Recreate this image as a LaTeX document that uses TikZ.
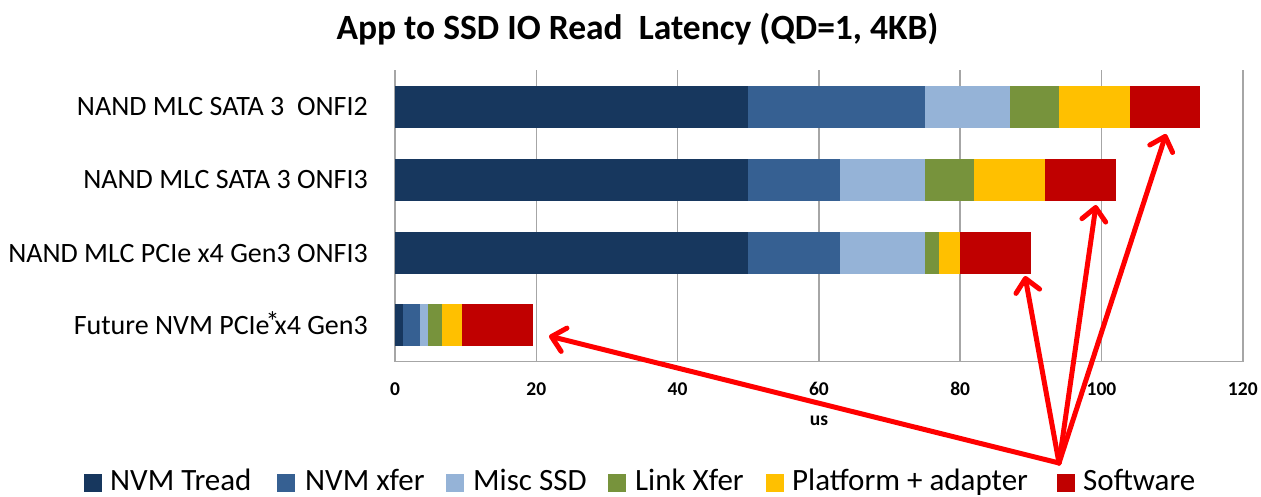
\documentclass[tikz,border=0pt]{standalone}
\usepackage{fontspec}
\setmainfont{Carlito}
\usetikzlibrary{arrows.meta}

\definecolor{cTread}{RGB}{23,55,94}
\definecolor{cXfer}{RGB}{54,96,146}
\definecolor{cMisc}{RGB}{149,179,215}
\definecolor{cLink}{RGB}{119,147,60}
\definecolor{cPlat}{RGB}{255,192,0}
\definecolor{cSoft}{RGB}{192,0,0}
\definecolor{cGrid}{RGB}{166,166,166}

% x origin of the value axis and pixels per microsecond
\def\xo{395}
\def\xs{7.065}

% one stacked bar: centre y, then the cumulative end of each segment
\newcommand\stackbar[7]{%
  \fill[cTread] ({\xo},{#1-21}) rectangle ({\xo+\xs*#2},{#1+21});
  \fill[cXfer]  ({\xo+\xs*#2},{#1-21}) rectangle ({\xo+\xs*#3},{#1+21});
  \fill[cMisc]  ({\xo+\xs*#3},{#1-21}) rectangle ({\xo+\xs*#4},{#1+21});
  \fill[cLink]  ({\xo+\xs*#4},{#1-21}) rectangle ({\xo+\xs*#5},{#1+21});
  \fill[cPlat]  ({\xo+\xs*#5},{#1-21}) rectangle ({\xo+\xs*#6},{#1+21});
  \fill[cSoft]  ({\xo+\xs*#6},{#1-21}) rectangle ({\xo+\xs*#7},{#1+21});
}

\begin{document}
\begin{tikzpicture}[x=1pt,y=-1pt,
  gridline/.style={draw=cGrid,line width=1.5pt},
  catlabel/.style={anchor=base east,inner sep=0pt,font=\fontsize{28}{30}\selectfont},
  ticklabel/.style={inner sep=0pt,font=\bfseries\fontsize{19.5}{21}\selectfont},
  legtext/.style={anchor=base west,inner sep=0pt,font=\fontsize{31}{33}\selectfont},
  legbox/.style={minimum size=17.5pt,inner sep=0pt,anchor=north west},
  pointer/.style={draw=red,line width=5pt,line cap=round,line join=round,
    -{Straight Barb[length=13pt,width=24pt,round]}}
]
\useasboundingbox (0,0) rectangle (1261,497);
\fill[white] (0,0) rectangle (1261,497);

% title
\node[anchor=base,inner sep=0pt,font=\bfseries\fontsize{35.5}{38}\selectfont] (title)
  at (637.5,40) {App to SSD IO Read~ Latency (QD=1, 4KB)};

% vertical grid lines and value axis labels
\foreach \v in {0,20,...,120}{
  \draw[gridline] ({\xo+\xs*\v},70.5) -- ({\xo+\xs*\v},361.7);
  \node[ticklabel] (tick\v) at ({\xo+\xs*\v},389) {\v};
}
\draw[gridline] (\xo,361.7) -- ({\xo+\xs*120},361.7);
\node[ticklabel] (unit) at (819,421) {us};

% stacked bars
\stackbar{107}{50}{75}{87}{94}{104}{114}
\stackbar{180}{50}{63}{75}{82}{92}{102}
\stackbar{253}{50}{63}{75}{77}{80}{90}
\stackbar{325}{1.1}{3.6}{4.7}{6.6}{9.5}{19.6}

% category labels
\node[catlabel] (cat1) at (368,116) {NAND MLC SATA 3~ ONFI2};
\node[catlabel] (cat2) at (368,189) {NAND MLC SATA 3 ONFI3};
\node[catlabel] (cat3) at (368,262) {NAND MLC PCIe x4 Gen3 ONFI3};
\node[catlabel] (cat4) at (368,334) {Future NVM PCIe\kern-4pt\raisebox{3pt}{*}\kern-5pt x4 Gen3};

% legend
\node[legbox,fill=cTread] (k1) at (84,474) {};
\node[legtext] (l1) at (110,490.5) {NVM Tread};
\node[legbox,fill=cXfer] (k2) at (277,474) {};
\node[legtext] (l2) at (305,490.5) {NVM xfer};
\node[legbox,fill=cMisc] (k3) at (446,474) {};
\node[legtext] (l3) at (473,490.5) {Misc SSD};
\node[legbox,fill=cLink] (k4) at (608,474) {};
\node[legtext] (l4) at (635,490.5) {Link Xfer};
\node[legbox,fill=cPlat] (k5) at (766,474) {};
\node[legtext] (l5) at (792,490.5) {Platform + adapter};
\node[legbox,fill=cSoft] (k6) at (1057,474) {};
\node[legtext] (l6) at (1083,490.5) {Software};

% software call-out arrows
\coordinate (src) at (1059,463);
\coordinate (tip1) at (1166,134);
\coordinate (tip2) at (1096,205);
\coordinate (tip3) at (1025,276);
\coordinate (tip4) at (549,336);
\draw[pointer] (src) -- (tip1);
\draw[pointer] (src) -- (tip2);
\draw[pointer] (src) -- (tip3);
\draw[pointer] (src) -- (tip4);
\end{tikzpicture}
\end{document}
